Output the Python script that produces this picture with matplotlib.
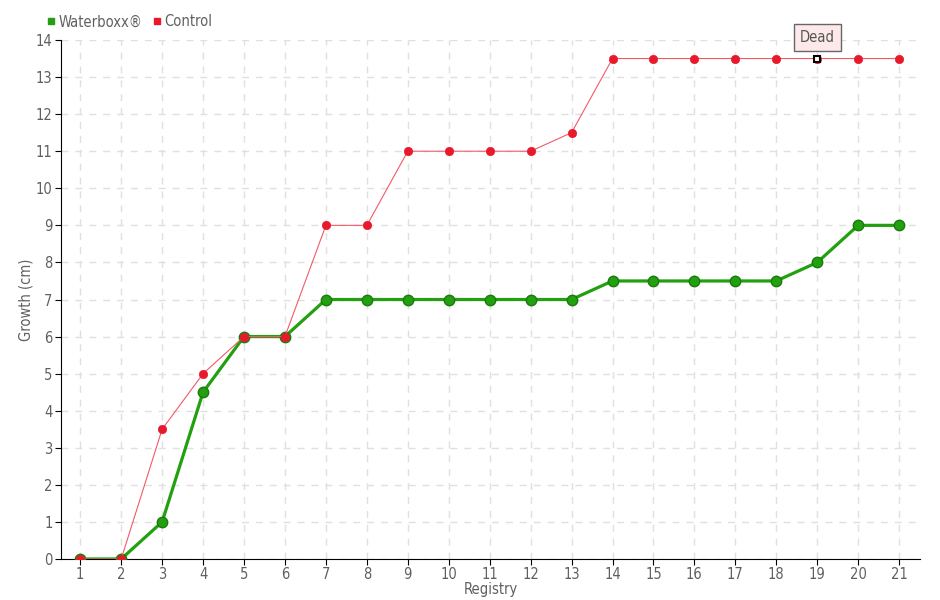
import matplotlib
matplotlib.use("Agg")
import matplotlib.pyplot as plt
from matplotlib.lines import Line2D

registry = list(range(1, 22))
waterboxx = [0, 0, 1, 4.5, 6, 6, 7, 7, 7, 7, 7, 7, 7, 7.5, 7.5, 7.5, 7.5, 7.5, 8, 9, 9]
control = [0, 0, 3.5, 5, 6, 6, 9, 9, 11, 11, 11, 11, 11.5, 13.5, 13.5, 13.5, 13.5, 13.5, 13.5, 13.5, 13.5]
dead_index = 18  # registry 19
dead_label = "Dead"

plt.rcParams['font.family'] = ['DejaVu Sans']
plt.rcParams['font.stretch'] = 'condensed'
txt = '#606060'

fig = plt.figure(figsize=(9.4, 6), dpi=100)
ax = fig.add_axes([61/940, 1-559/600, (920-61)/940, (559-40)/600])

ax.plot(registry, waterboxx, color='#22a010', lw=2.3, marker='o', ms=7.5,
        mfc='#22a010', mec='#1a7a0c', mew=1, zorder=3)
ax.plot(registry, control, color='#f25a68', lw=0.8, marker='o', ms=6,
        mfc='#e8192c', mec='#e8192c', mew=0.5, zorder=4)
ax.plot([registry[dead_index]], [control[dead_index]], marker='s', ms=5,
        mfc='white', mec='black', mew=1.5, zorder=6, ls='none')

ax.annotate(dead_label, xy=(registry[dead_index], control[dead_index]),
            xytext=(0, 15), textcoords='offset points', ha='center', va='center',
            fontsize=10.5, color='#555555', zorder=7,
            bbox=dict(boxstyle='square,pad=0.4', fc='#fde8ea', ec='#666666', lw=1))

ax.set_xlim(0.53, 21.51)
ax.set_ylim(0, 14)
ax.set_xticks(registry)
ax.set_yticks(range(0, 15))
ax.grid(True, ls=(0, (5, 5)), color='#e0e0e0', lw=1)
ax.set_axisbelow(True)
for s in ['top', 'right']:
    ax.spines[s].set_visible(False)
ax.spines['left'].set_color('black')
ax.spines['bottom'].set_color('black')
ax.tick_params(axis='both', colors='black', labelcolor=txt, labelsize=10.5, length=4)
ax.tick_params(axis='x', pad=2)
ax.tick_params(axis='y', pad=2)
ax.set_xlabel('Registry', color=txt, fontsize=10.5, labelpad=0)
ax.set_ylabel('Growth (cm)', color=txt, fontsize=10.5, labelpad=2)

handles = [Line2D([], [], marker='s', ls='none', color='#22a010', ms=5),
           Line2D([], [], marker='s', ls='none', color='#e8192c', ms=5)]
fig.legend(handles, ['Waterboxx®', 'Control'], loc='center left', bbox_to_anchor=(45/940, 1-22/600),
           ncol=2, frameon=False, fontsize=10.5, handletextpad=0.1, columnspacing=0.6,
           handlelength=0.8, labelcolor=txt, borderpad=0, borderaxespad=0)

fig.savefig('out.png', dpi=100)
